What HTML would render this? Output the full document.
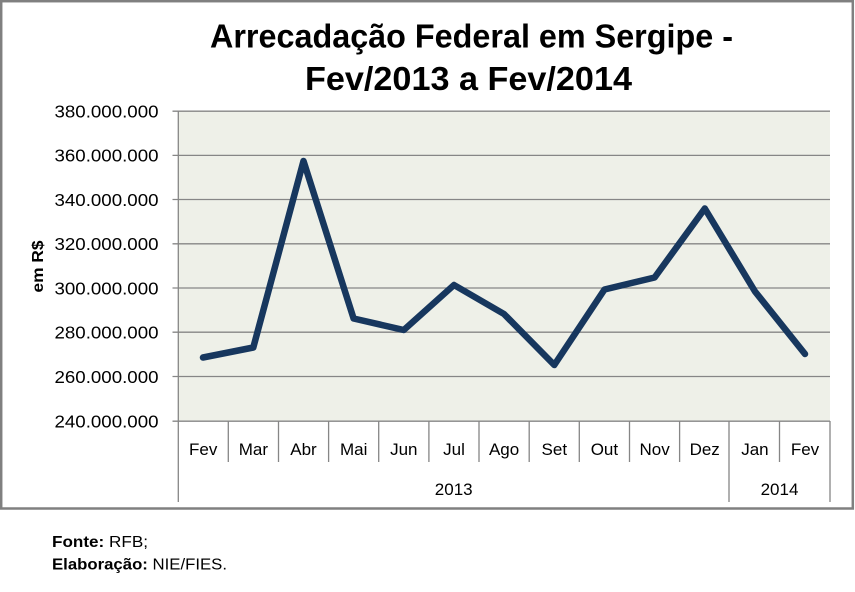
<!DOCTYPE html>
<html><head><meta charset="utf-8"><style>
html,body{margin:0;padding:0;background:#fff;}
svg{display:block;font-family:"Liberation Sans",sans-serif;}
</style></head><body>
<svg width="855" height="592" viewBox="0 0 855 592" xmlns="http://www.w3.org/2000/svg">
<rect x="0" y="0" width="855" height="592" fill="#fff"/>
<rect x="1.2" y="1.2" width="851.6" height="507.3" fill="#fff" stroke="#808080" stroke-width="2.5"/>
<!-- title -->
<text x="210" y="47.5" font-size="33" font-weight="bold" fill="#000" textLength="523" lengthAdjust="spacingAndGlyphs">Arrecadação Federal em Sergipe -</text>
<text x="305" y="90" font-size="33" font-weight="bold" fill="#000" textLength="327" lengthAdjust="spacingAndGlyphs">Fev/2013 a Fev/2014</text>
<!-- plot area -->
<rect x="178" y="111" width="652" height="310.5" fill="#EEF0E8"/>
<g stroke="#868686" stroke-width="1.3">
<line x1="172.5" y1="111.2" x2="830" y2="111.2"/>
<line x1="172.5" y1="155.4" x2="830" y2="155.4"/>
<line x1="172.5" y1="199.5" x2="830" y2="199.5"/>
<line x1="172.5" y1="243.8" x2="830" y2="243.8"/>
<line x1="172.5" y1="288" x2="830" y2="288"/>
<line x1="172.5" y1="332.2" x2="830" y2="332.2"/>
<line x1="172.5" y1="376.5" x2="830" y2="376.5"/>
<line x1="172.5" y1="421.2" x2="830" y2="421.2"/>
<line x1="178.3" y1="111" x2="178.3" y2="502"/>
<line x1="729" y1="421" x2="729" y2="502"/>
<line x1="830" y1="421" x2="830" y2="502"/>
<line x1="228.3" y1="421" x2="228.3" y2="462"/>
<line x1="278.5" y1="421" x2="278.5" y2="462"/>
<line x1="328.6" y1="421" x2="328.6" y2="462"/>
<line x1="378.7" y1="421" x2="378.7" y2="462"/>
<line x1="428.9" y1="421" x2="428.9" y2="462"/>
<line x1="479" y1="421" x2="479" y2="462"/>
<line x1="529.2" y1="421" x2="529.2" y2="462"/>
<line x1="579.3" y1="421" x2="579.3" y2="462"/>
<line x1="629.5" y1="421" x2="629.5" y2="462"/>
<line x1="679.6" y1="421" x2="679.6" y2="462"/>
<line x1="779.5" y1="421" x2="779.5" y2="462"/>
</g>
<!-- y labels -->
<g font-size="17.5" fill="#000">
<text x="54.5" y="117.5" textLength="104" lengthAdjust="spacingAndGlyphs">380.000.000</text>
<text x="54.5" y="161.7" textLength="104" lengthAdjust="spacingAndGlyphs">360.000.000</text>
<text x="54.5" y="205.8" textLength="104" lengthAdjust="spacingAndGlyphs">340.000.000</text>
<text x="54.5" y="250.1" textLength="104" lengthAdjust="spacingAndGlyphs">320.000.000</text>
<text x="54.5" y="294.3" textLength="104" lengthAdjust="spacingAndGlyphs">300.000.000</text>
<text x="54.5" y="338.5" textLength="104" lengthAdjust="spacingAndGlyphs">280.000.000</text>
<text x="54.5" y="382.8" textLength="104" lengthAdjust="spacingAndGlyphs">260.000.000</text>
<text x="54.5" y="427.5" textLength="104" lengthAdjust="spacingAndGlyphs">240.000.000</text>
</g>
<text transform="translate(43,292.5) rotate(-90)" font-size="15.5" font-weight="bold" fill="#000" textLength="52" lengthAdjust="spacingAndGlyphs">em R$</text>
<!-- x labels -->
<g font-size="17" fill="#000" text-anchor="middle">
<text x="203.2" y="455">Fev</text>
<text x="253.4" y="455">Mar</text>
<text x="303.5" y="455">Abr</text>
<text x="353.7" y="455">Mai</text>
<text x="403.8" y="455">Jun</text>
<text x="454" y="455">Jul</text>
<text x="504.1" y="455">Ago</text>
<text x="554.3" y="455">Set</text>
<text x="604.4" y="455">Out</text>
<text x="654.6" y="455">Nov</text>
<text x="704.7" y="455">Dez</text>
<text x="754.9" y="455">Jan</text>
<text x="805" y="455">Fev</text>
<text x="453.7" y="495">2013</text>
<text x="779.5" y="495">2014</text>
</g>
<!-- series -->
<polyline fill="none" stroke="#17375E" stroke-width="6.5" stroke-linejoin="round" stroke-linecap="round"
points="203,357.5 253.3,347.5 303.5,161 353.6,318.5 403.8,330 454,285 504,314 554.3,365 604.5,289.5 654.6,277.5 704.8,208.5 755,291.5 805,354"/>
<!-- footer -->
<text x="52" y="547" font-size="15.5" fill="#000" textLength="96" lengthAdjust="spacingAndGlyphs"><tspan font-weight="bold">Fonte:</tspan> RFB;</text>
<text x="52" y="569.5" font-size="15.5" fill="#000" textLength="175" lengthAdjust="spacingAndGlyphs"><tspan font-weight="bold">Elaboração:</tspan> NIE/FIES.</text>
</svg>
</body></html>
